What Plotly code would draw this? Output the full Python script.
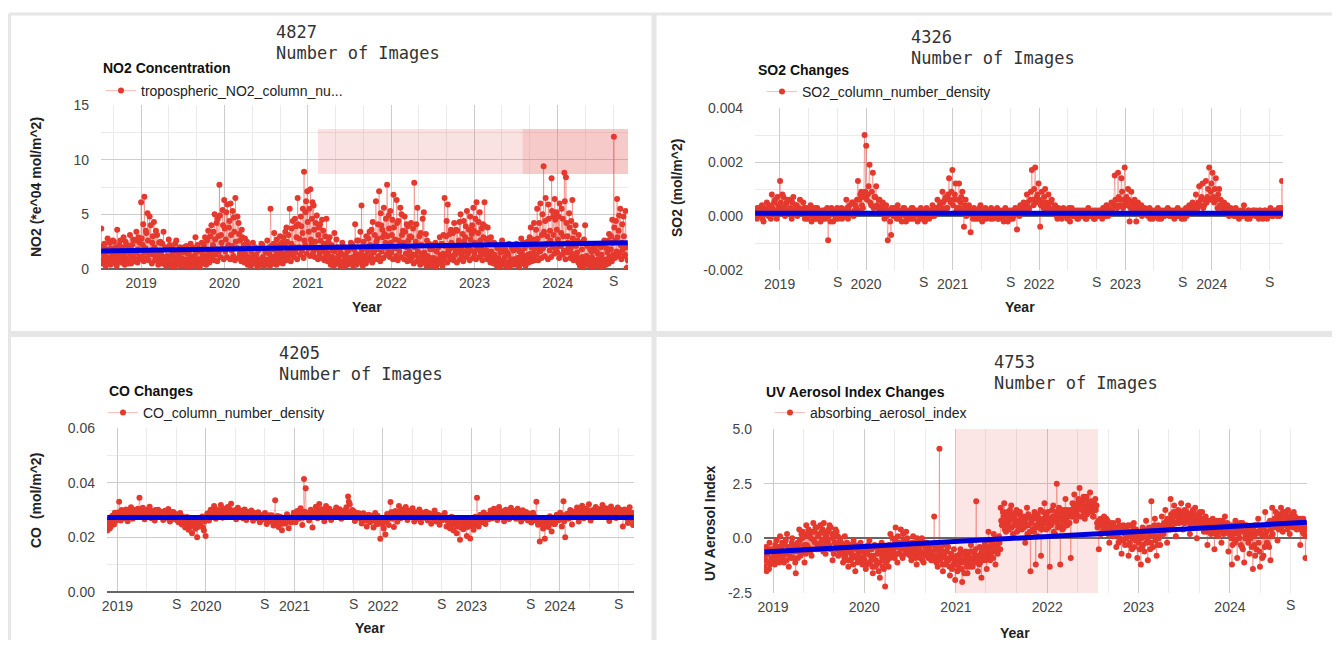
import plotly.graph_objects as go
import pandas as pd

# The page body keeps its default 8px margin, so the figure is drawn 16px smaller
# than the 1340x648 window and every target pixel position is shifted by 8px.
OFF = 8
FW, FH = 1340 - 2 * OFF, 648 - 2 * OFF
RED = "#e5392e"
RED_LINE = "rgba(229,57,46,0.35)"
BLUE = "#0000dd"
TICK_FONT = dict(family="Liberation Sans, Arial, sans-serif", size=14, color="#444444")
BOLD = "Liberation Sans, Arial, sans-serif"
MONO = "DejaVu Sans Mono, monospace"

# ---------------- DATA (several samples per week) ----------------
no2_start = "2018-07-10"
no2_values = [
    3.7, 0.9, 2.3, 1.1, 2.8, 0.6, 1.9, 1.2, 2.5, 0.8, 3.6, 1.4,
    2.6, 0.7, 2.9, 1.5, 2.2, 0.5, 3.1, 1.3, 2.7, 0.9, 3.4, 1.8, 2.4,
    6.1, 2.2, 6.6, 3.5, 5.1, 1.3, 4.0, 2.4, 4.3, 0.9, 3.1, 1.6, 2.5,
    1.2, 3.4, 0.4, 1.8, 0.7, 2.2, 0.3, 1.5, 0.9, 2.6, 0.5, 1.7, 1.0,
    0.6, 2.0, 0.4, 1.4, 0.8, 2.3, 0.3, 1.1, 2.9, 0.7, 1.6, 0.5, 2.4,
    1.3, 2.9, 0.8, 3.5, 1.5, 4.0, 2.2, 5.0, 1.8, 4.6, 7.7, 3.1, 5.4,
    6.3, 2.7, 5.9, 3.8, 6.0, 2.1, 4.7, 6.5, 1.9, 4.2, 2.6, 3.6, 1.4,
    2.8, 0.9, 2.1, 0.5, 1.6, 2.4, 0.6, 1.3, 0.4, 1.9, 0.8, 2.2, 0.5,
    1.5, 2.6, 0.7, 5.5, 1.8, 2.3, 1.2, 2.7, 0.8, 3.0, 1.4, 2.9, 2.1,
    3.8, 1.6, 5.5, 2.3, 4.4, 2.0, 3.9, 6.5, 2.8, 4.8, 3.3, 8.9, 5.2,
    7.1, 3.4, 7.3, 4.6, 5.8, 2.5, 4.9, 3.1, 4.1, 1.8, 3.5, 2.2, 4.6,
    1.4, 2.9, 0.6, 1.7, 3.3, 0.8, 2.0, 0.5, 1.5, 2.4, 0.7, 1.2, 0.4,
    1.8, 0.6, 2.3, 1.1, 4.1, 0.9, 2.6, 1.3, 5.8, 2.0, 0.8, 3.0, 1.6,
    3.4, 1.2, 4.3, 2.1, 6.2, 2.8, 7.1, 5.1, 3.6, 5.6, 2.4, 7.7, 4.9,
    5.3, 3.1, 6.8, 2.7, 6.3, 4.4, 2.2, 5.0, 3.5, 4.8, 2.0, 3.9, 1.6,
    4.2, 1.3, 7.9, 2.5, 5.6, 0.8, 3.3, 1.4, 5.2, 0.9, 2.6, 0.6, 1.8,
    0.7, 2.2, 0.5, 1.6, 0.9, 2.9, 0.6, 1.4, 6.5, 3.0, 5.9, 1.8, 3.6,
    2.0, 4.2, 1.7, 3.5, 2.6, 5.0, 1.5, 4.4, 2.9, 5.3, 2.1, 4.8, 3.2,
    5.6, 2.4, 6.1, 3.3, 5.2, 1.9, 4.1, 6.1, 2.7, 3.8, 1.5, 2.9, 1.1,
    2.4, 0.6, 1.9, 0.4, 1.5, 2.6, 0.8, 1.8, 0.3, 1.3, 2.2, 0.5, 1.7,
    0.9, 2.3, 0.4, 1.6, 2.8, 0.7, 1.9, 0.5, 2.5, 1.1, 3.8, 1.4, 4.2,
    2.6, 5.5, 1.9, 6.0, 3.1, 9.4, 4.4, 2.3, 5.9, 3.5, 8.3, 4.8, 6.4,
    5.2, 2.7, 6.0, 3.3, 4.6, 8.8, 8.4, 3.0, 5.1, 1.9, 6.3, 2.2, 4.0,
    1.5, 3.1, 0.6, 1.8, 0.4, 4.0, 1.2, 2.3, 0.5, 1.6, 0.3, 1.9, 0.8,
    1.4, 0.5, 2.0, 0.9, 2.6, 0.4, 1.5, 3.2, 1.8, 4.5, 12.1, 2.6, 6.4,
    3.5, 5.5, 2.4, 4.8, 1.3, 0.1,
]
no2_mid_values = [
    1.6, 2.1, 0.7, 1.8, 1.0, 2.4, 0.9, 2.6, 1.3, 2.0, 1.1, 2.2,
    1.2, 2.0, 1.0, 2.5, 0.8, 1.9, 1.4, 2.2, 1.0, 2.6, 1.5, 2.9, 1.1,
    2.8, 4.1, 1.5, 3.3, 2.6, 4.8, 1.7, 3.0, 2.0, 3.5, 1.2, 2.4, 1.5,
    2.3, 0.8, 2.0, 1.2, 2.7, 0.5, 1.9, 1.1, 2.3, 0.6, 1.4, 2.0, 0.7,
    1.5, 0.9, 2.1, 0.6, 1.7, 1.2, 2.0, 0.5, 1.6, 2.2, 0.9, 1.8, 1.2,
    2.2, 1.1, 2.6, 1.6, 3.0, 1.2, 3.4, 2.7, 4.2, 3.0, 4.9, 2.4, 4.0,
    3.7, 5.2, 2.0, 4.4, 3.1, 5.3, 3.4, 2.5, 4.8, 3.2, 1.8, 2.9, 2.2,
    1.4, 2.5, 1.1, 1.9, 0.7, 1.2, 2.0, 0.9, 1.7, 0.7, 2.3, 1.1, 1.8,
    0.8, 1.9, 1.4, 2.1, 0.9, 3.3, 1.7, 0.6, 2.2, 1.5, 2.4, 1.0, 3.4,
    2.5, 3.1, 1.3, 3.7, 1.7, 4.6, 2.9, 4.1, 1.9, 3.9, 5.5, 2.6, 6.2,
    4.3, 5.5, 2.7, 6.1, 3.6, 4.2, 1.9, 3.8, 2.6, 4.5, 2.3, 3.0, 1.5,
    2.5, 1.0, 2.2, 0.8, 1.6, 2.7, 1.1, 1.9, 0.6, 1.3, 2.0, 0.9, 1.6,
    1.0, 2.4, 0.7, 1.8, 1.4, 2.6, 0.8, 3.4, 1.7, 2.5, 1.2, 2.0, 2.8,
    2.2, 3.6, 1.7, 3.1, 2.5, 4.1, 1.8, 4.0, 2.9, 3.2, 4.6, 3.0, 3.7,
    2.4, 4.5, 3.8, 1.9, 4.2, 2.6, 5.6, 3.1, 2.4, 3.4, 4.1, 2.6, 3.0,
    2.9, 3.7, 2.0, 4.1, 1.6, 3.0, 2.2, 4.6, 1.5, 3.2, 1.2, 2.3, 1.0,
    1.8, 1.0, 2.4, 0.6, 2.0, 1.3, 2.3, 3.1, 2.1, 4.4, 1.6, 3.2, 2.4,
    3.3, 1.3, 3.6, 2.2, 4.3, 1.9, 3.2, 2.5, 3.9, 1.8, 3.6, 2.7, 4.0,
    3.5, 4.6, 1.8, 4.3, 2.6, 3.7, 2.9, 3.9, 1.7, 2.8, 2.3, 1.6, 2.4,
    1.3, 2.2, 0.9, 2.0, 0.7, 1.6, 2.1, 0.6, 1.5, 2.3, 0.8, 1.9, 0.6,
    1.8, 0.7, 2.0, 1.1, 1.5, 2.4, 0.9, 2.2, 1.3, 2.9, 2.0, 2.7, 1.8,
    3.6, 2.8, 4.2, 1.7, 5.0, 3.4, 6.5, 3.0, 4.6, 2.6, 5.3, 3.1, 4.5,
    3.6, 4.8, 2.1, 5.5, 3.0, 6.2, 4.2, 2.4, 3.8, 4.4, 2.8, 3.4, 2.1,
    2.6, 1.0, 2.4, 1.1, 2.7, 0.9, 2.1, 0.7, 1.8, 1.1, 2.2, 0.7, 1.6,
    0.9, 2.1, 1.3, 2.3, 0.8, 1.9, 2.6, 1.1, 3.0, 2.4, 3.8, 4.4, 2.9,
    4.9, 2.2, 4.1, 3.0, 5.3, 2.0,
]
no2_low_values = [
    0.5, 1.3, 0.3, 0.9, 1.6, 0.4, 1.1, 0.6, 1.4, 0.3, 0.9, 0.7,
    0.6, 1.4, 0.4, 1.0, 1.7, 0.8, 0.5, 1.2, 0.7, 1.5, 0.6, 1.1, 0.9,
    1.2, 0.7, 1.9, 1.0, 0.8, 1.6, 0.5, 1.3, 0.8, 1.1, 0.4, 0.9, 0.6,
    0.5, 1.1, 0.3, 0.8, 0.4, 1.2, 0.6, 0.2, 0.9, 0.4, 1.0, 0.3, 0.6,
    0.3, 0.8, 0.5, 0.2, 1.0, 0.4, 0.7, 1.2, 0.3, 0.6, 0.2, 0.9, 0.5,
    0.7, 0.4, 1.2, 0.6, 0.9, 1.5, 0.8, 1.3, 0.7, 1.6, 1.1, 1.9, 0.9,
    1.6, 1.1, 2.2, 0.9, 1.7, 1.2, 0.8, 1.9, 1.0, 1.4, 0.7, 1.1, 0.6,
    0.7, 0.4, 1.0, 0.3, 0.8, 0.5, 1.1, 0.2, 0.7, 0.4, 1.0, 0.3, 0.6,
    0.4, 0.9, 0.3, 1.1, 0.5, 0.8, 0.4, 1.3, 0.6, 0.9, 0.5, 1.4, 0.8,
    1.0, 1.4, 0.7, 1.8, 1.1, 1.5, 0.9, 2.0, 1.3, 1.7, 1.0, 2.2, 1.4,
    1.9, 1.2, 2.4, 1.5, 1.1, 1.8, 0.9, 1.4, 1.0, 1.6, 0.8, 1.2, 0.7,
    0.9, 0.4, 1.1, 0.3, 0.8, 0.5, 1.2, 0.3, 0.7, 0.2, 0.9, 0.4, 0.8,
    0.5, 1.0, 0.3, 0.7, 0.4, 1.1, 0.6, 0.9, 0.3, 1.2, 0.5, 0.8, 1.0,
    1.1, 0.6, 1.5, 0.9, 1.8, 1.2, 0.7, 1.6, 1.0, 2.0, 1.3, 1.7, 1.1,
    1.5, 0.9, 1.9, 1.2, 0.8, 1.6, 1.1, 2.1, 0.9, 1.4, 0.7, 1.2, 0.8,
    1.1, 0.5, 1.3, 0.7, 1.0, 0.4, 1.2, 0.6, 0.9, 0.3, 0.8, 0.5, 0.3,
    0.4, 0.9, 0.2, 0.7, 0.5, 1.1, 0.3, 0.8, 1.2, 0.6, 1.3, 0.9, 1.1,
    0.8, 1.3, 0.6, 1.5, 0.9, 1.2, 0.7, 1.6, 1.1, 1.4, 0.8, 1.7, 1.0,
    1.4, 0.9, 1.8, 1.1, 1.5, 0.8, 1.3, 1.7, 0.9, 1.2, 0.6, 1.0, 0.5,
    0.8, 0.3, 1.0, 0.2, 0.7, 0.4, 1.1, 0.3, 0.6, 0.2, 0.9, 0.4, 0.7,
    0.4, 1.0, 0.2, 0.8, 0.5, 1.2, 0.3, 0.9, 0.6, 1.4, 0.7, 1.1, 0.8,
    1.3, 0.8, 1.6, 1.0, 1.9, 1.2, 2.2, 0.9, 1.7, 1.1, 2.0, 1.4, 1.8,
    1.5, 1.0, 2.1, 1.3, 1.7, 0.9, 1.5, 1.9, 1.0, 1.4, 0.8, 1.2, 0.9,
    0.6, 0.3, 0.9, 0.2, 0.7, 0.4, 1.0, 0.3, 0.6, 0.2, 0.8, 0.3, 0.5,
    0.3, 0.8, 0.2, 0.6, 0.4, 0.9, 0.5, 1.1, 0.7, 1.3, 1.0, 1.6, 1.2,
    1.5, 0.9, 1.8, 1.2, 2.1, 0.8,
]
no2_trend = [1.65, 2.40]

so2_start = "2018-09-20"
so2_values = [
    0.0002, -0.0001, 0.0003, 0.0001, 0.0004, -0.0002, 0.0002, 0.0005, 0.0000, 0.0003, 0.0008, 0.0001, 0.0006, -0.0001, 0.0004,
    0.0013, 0.0003, 0.0007, 0.0000, 0.0005, 0.0002, 0.0006, -0.0001, 0.0007, 0.0002, 0.0004, 0.0001, 0.0006,
    0.0002, 0.0005, -0.0001, 0.0003, 0.0000, 0.0002, -0.0002, 0.0001, 0.0003, -0.0001, 0.0002, 0.0000, 0.0001,
    -0.0001, 0.0002, 0.0000, -0.0009, 0.0001, 0.0003, -0.0002, 0.0001, 0.0002, -0.0001, 0.0000, 0.0003, 0.0001,
    0.0002, 0.0006, -0.0001, 0.0004, 0.0001, 0.0005, 0.0002, 0.0003, 0.0013, 0.0006, 0.0009, 0.0003, 0.0030,
    0.0026, 0.0008, 0.0019, 0.0004, 0.0016, 0.0007, 0.0011, 0.0003, 0.0006, 0.0002, 0.0005, -0.0001, 0.0004,
    -0.0009, 0.0002, -0.0007, 0.0001, 0.0003, 0.0000, 0.0004, -0.0001, 0.0002, 0.0001, 0.0003, -0.0002, 0.0001,
    0.0002, -0.0001, 0.0003, 0.0000, 0.0002, -0.0002, 0.0001, 0.0003, -0.0001, 0.0002, 0.0000, 0.0001, -0.0001,
    0.0002, 0.0004, 0.0000, 0.0003, 0.0006, 0.0001, 0.0005, 0.0009, 0.0002, 0.0007, 0.0003, 0.0014, 0.0005,
    0.0017, 0.0006, 0.0012, 0.0003, 0.0012, 0.0005, 0.0009, -0.0004, 0.0006, 0.0002, 0.0004, -0.0006, 0.0002,
    0.0003, -0.0001, 0.0002, 0.0000, 0.0004, -0.0002, 0.0001, 0.0003, 0.0000, 0.0002, -0.0001, 0.0001, 0.0002,
    0.0000, 0.0003, -0.0001, 0.0001, 0.0002, -0.0002, 0.0003, 0.0000, 0.0001, -0.0001, 0.0002, 0.0000, 0.0003,
    -0.0005, 0.0002, 0.0004, 0.0001, 0.0005, 0.0003, 0.0008, 0.0002, 0.0006, 0.0017, 0.0004, 0.0018, 0.0007,
    0.0012, -0.0004, 0.0009, 0.0003, 0.0010, 0.0005, 0.0008, 0.0002, 0.0006, 0.0001, 0.0004, 0.0000, 0.0003,
    0.0002, -0.0001, 0.0003, 0.0000, 0.0002, 0.0001, -0.0002, 0.0003, 0.0001, 0.0000, 0.0002, -0.0001, 0.0001,
    0.0002, 0.0000, 0.0001, -0.0001, 0.0003, 0.0001, 0.0000, 0.0002, -0.0001, 0.0001, 0.0002, 0.0000, 0.0001,
    0.0003, 0.0001, 0.0004, 0.0000, 0.0002, 0.0005, 0.0001, 0.0015, 0.0004, 0.0016, 0.0006, 0.0014, 0.0003,
    0.0018, 0.0007, 0.0010, -0.0002, 0.0009, 0.0004, 0.0006, -0.0002, 0.0005, 0.0002, 0.0004, 0.0001, 0.0003,
    0.0002, 0.0000, 0.0003, 0.0001, -0.0001, 0.0002, 0.0000, 0.0003, 0.0001, -0.0001, 0.0002, 0.0000, 0.0001,
    0.0003, 0.0000, 0.0002, 0.0001, -0.0001, 0.0002, 0.0003, 0.0000, 0.0001, 0.0002, -0.0001, 0.0003, 0.0002,
    0.0004, 0.0001, 0.0005, 0.0002, 0.0008, 0.0003, 0.0011, 0.0006, 0.0012, 0.0004, 0.0013, 0.0007, 0.0018,
    0.0009, 0.0016, 0.0005, 0.0014, 0.0003, 0.0010, 0.0006, 0.0002, 0.0005, 0.0001, 0.0004, 0.0000, 0.0003,
    0.0002, 0.0000, 0.0003, 0.0001, -0.0001, 0.0002, 0.0000, 0.0004, 0.0001, -0.0001, 0.0002, 0.0000, 0.0001,
    0.0002, 0.0000, 0.0001, -0.0001, 0.0002, 0.0001, 0.0000, 0.0002, -0.0001, 0.0001, 0.0003, 0.0000, 0.0001,
    0.0002, 0.0000, 0.0003, 0.0002, 0.0013,
]
so2_mid_values = [
    0.0001, 0.0003, 0.0000, 0.0002, -0.0001, 0.0003, 0.0001, 0.0002, 0.0004, -0.0001, 0.0003, 0.0005, 0.0002, 0.0007, 0.0003,
    0.0005, 0.0008, 0.0002, 0.0004, 0.0006, 0.0001, 0.0003, 0.0005, 0.0002, 0.0004, 0.0000, 0.0003, 0.0002,
    0.0001, 0.0003, 0.0001, -0.0001, 0.0002, 0.0004, 0.0000, 0.0002, -0.0001, 0.0003, 0.0001, -0.0002, 0.0002,
    0.0002, -0.0001, 0.0003, 0.0000, -0.0002, 0.0002, 0.0001, -0.0001, 0.0003, 0.0000, 0.0002, -0.0001, 0.0002,
    0.0000, 0.0003, 0.0002, 0.0001, 0.0005, 0.0000, 0.0004, 0.0006, 0.0002, 0.0008, 0.0004, 0.0007, 0.0009,
    0.0006, 0.0011, 0.0005, 0.0009, 0.0003, 0.0007, 0.0004, 0.0006, 0.0002, 0.0004, 0.0001, 0.0003, 0.0000,
    0.0002, -0.0002, 0.0003, 0.0000, 0.0002, -0.0001, 0.0002, 0.0001, -0.0002, 0.0003, 0.0000, 0.0002, -0.0001,
    0.0001, 0.0003, -0.0001, 0.0002, 0.0001, 0.0002, -0.0001, 0.0000, 0.0002, -0.0002, 0.0003, 0.0001, 0.0002,
    0.0000, 0.0002, 0.0003, 0.0001, 0.0002, 0.0004, 0.0003, 0.0005, 0.0006, 0.0003, 0.0008, 0.0006, 0.0009,
    0.0004, 0.0008, 0.0002, 0.0006, 0.0003, 0.0007, 0.0002, 0.0004, 0.0000, 0.0003, 0.0001, 0.0002, -0.0001,
    0.0001, 0.0002, -0.0001, 0.0003, 0.0001, 0.0000, 0.0002, -0.0001, 0.0002, 0.0001, 0.0003, -0.0001, 0.0000,
    0.0002, -0.0001, 0.0002, 0.0000, -0.0001, 0.0002, 0.0001, -0.0002, 0.0002, 0.0001, -0.0001, 0.0002, 0.0001,
    0.0002, 0.0000, 0.0002, 0.0003, 0.0002, 0.0004, 0.0005, 0.0003, 0.0009, 0.0006, 0.0010, 0.0005, 0.0008,
    0.0006, 0.0004, 0.0005, 0.0007, 0.0002, 0.0004, 0.0003, 0.0005, 0.0001, 0.0003, 0.0002, -0.0001, 0.0002,
    0.0001, 0.0002, 0.0000, 0.0002, -0.0001, 0.0003, 0.0001, 0.0000, 0.0002, 0.0001, -0.0001, 0.0002, 0.0000,
    0.0001, 0.0002, -0.0001, 0.0002, 0.0000, 0.0002, 0.0001, -0.0001, 0.0002, 0.0000, 0.0001, 0.0002, -0.0001,
    0.0002, 0.0000, 0.0002, 0.0003, 0.0001, 0.0002, 0.0004, 0.0006, 0.0003, 0.0007, 0.0004, 0.0009, 0.0006,
    0.0005, 0.0004, 0.0006, 0.0003, 0.0005, 0.0002, 0.0004, 0.0003, 0.0001, 0.0003, 0.0000, 0.0002, 0.0001,
    0.0001, 0.0002, -0.0001, 0.0002, 0.0001, 0.0000, 0.0002, -0.0001, 0.0002, 0.0001, 0.0000, 0.0002, 0.0001,
    0.0001, 0.0002, 0.0000, 0.0002, 0.0001, 0.0000, 0.0001, 0.0002, -0.0001, 0.0001, 0.0002, 0.0000, 0.0001,
    0.0002, 0.0003, 0.0001, 0.0004, 0.0002, 0.0005, 0.0004, 0.0007, 0.0003, 0.0006, 0.0005, 0.0010, 0.0006,
    0.0012, 0.0007, 0.0010, 0.0006, 0.0008, 0.0004, 0.0003, 0.0004, 0.0002, 0.0003, 0.0001, 0.0002, 0.0002,
    0.0001, 0.0002, 0.0000, 0.0002, 0.0001, 0.0000, 0.0002, 0.0001, 0.0000, 0.0002, -0.0001, 0.0001, 0.0002,
    0.0001, 0.0002, 0.0000, 0.0002, 0.0001, -0.0001, 0.0002, 0.0001, 0.0000, 0.0002, 0.0001, 0.0000, 0.0002,
    0.0001, 0.0002, 0.0000, 0.0003, 0.0001,
]
so2_trend = [0.0001, 0.0001]

co_start = "2018-11-20"
co_values = [
    0.0225, 0.0265, 0.0238, 0.0279, 0.0247, 0.0283,
    0.0291, 0.0330, 0.0262, 0.0295, 0.0271, 0.0302, 0.0259, 0.0288, 0.0310, 0.0268, 0.0297, 0.0275, 0.0305,
    0.0345, 0.0281, 0.0308, 0.0266, 0.0299, 0.0283, 0.0312, 0.0270, 0.0293, 0.0262, 0.0289, 0.0301, 0.0274,
    0.0286, 0.0263, 0.0297, 0.0272, 0.0304, 0.0258, 0.0284, 0.0293, 0.0266, 0.0278, 0.0255, 0.0289, 0.0247,
    0.0268, 0.0236, 0.0274, 0.0228, 0.0261, 0.0215, 0.0270, 0.0231, 0.0200, 0.0259, 0.0242, 0.0276, 0.0225,
    0.0205, 0.0287, 0.0262, 0.0301, 0.0279, 0.0315, 0.0268, 0.0296, 0.0283, 0.0318, 0.0272, 0.0305, 0.0290,
    0.0311, 0.0275, 0.0323, 0.0284, 0.0299, 0.0266, 0.0308, 0.0281, 0.0295, 0.0270, 0.0302, 0.0263, 0.0287,
    0.0276, 0.0298, 0.0261, 0.0284, 0.0270, 0.0292, 0.0255, 0.0281, 0.0266, 0.0289, 0.0249, 0.0274, 0.0258,
    0.0281, 0.0243, 0.0336, 0.0262, 0.0238, 0.0275, 0.0226, 0.0269, 0.0251, 0.0284, 0.0233, 0.0272, 0.0260,
    0.0290, 0.0255, 0.0296, 0.0268, 0.0306, 0.0245, 0.0413, 0.0380, 0.0288, 0.0262, 0.0301, 0.0236, 0.0293,
    0.0312, 0.0270, 0.0322, 0.0284, 0.0298, 0.0259, 0.0315, 0.0276, 0.0305, 0.0263, 0.0292, 0.0281, 0.0309,
    0.0286, 0.0303, 0.0268, 0.0295, 0.0274, 0.0310, 0.0349, 0.0321, 0.0282, 0.0297, 0.0260, 0.0285, 0.0271,
    0.0279, 0.0251, 0.0288, 0.0262, 0.0240, 0.0283, 0.0255, 0.0274, 0.0236, 0.0289, 0.0248, 0.0270, 0.0195,
    0.0262, 0.0232, 0.0210, 0.0285, 0.0245, 0.0329, 0.0268, 0.0238, 0.0296, 0.0257, 0.0315, 0.0270, 0.0302,
    0.0281, 0.0311, 0.0263, 0.0298, 0.0275, 0.0306, 0.0258, 0.0290, 0.0268, 0.0302, 0.0255, 0.0285, 0.0272,
    0.0294, 0.0262, 0.0287, 0.0250, 0.0279, 0.0298, 0.0258, 0.0283, 0.0246, 0.0275, 0.0264, 0.0289, 0.0240,
    0.0268, 0.0233, 0.0275, 0.0226, 0.0258, 0.0215, 0.0265, 0.0191, 0.0247, 0.0230, 0.0271, 0.0205, 0.0255,
    0.0196, 0.0262, 0.0228, 0.0275, 0.0345, 0.0240, 0.0283, 0.0255, 0.0291, 0.0249, 0.0279, 0.0266, 0.0298,
    0.0270, 0.0305, 0.0282, 0.0263, 0.0311, 0.0276, 0.0295, 0.0259, 0.0301, 0.0284, 0.0267, 0.0308, 0.0279,
    0.0296, 0.0268, 0.0305, 0.0280, 0.0258, 0.0299, 0.0271, 0.0293, 0.0262, 0.0286, 0.0254, 0.0290, 0.0275,
    0.0330, 0.0246, 0.0185, 0.0271, 0.0232, 0.0195, 0.0263, 0.0238, 0.0277, 0.0221, 0.0268, 0.0249, 0.0283,
    0.0262, 0.0290, 0.0240, 0.0332, 0.0200, 0.0285, 0.0268, 0.0300, 0.0247, 0.0293, 0.0275, 0.0309, 0.0258,
    0.0296, 0.0316, 0.0270, 0.0305, 0.0283, 0.0321, 0.0262, 0.0299, 0.0287, 0.0311, 0.0275, 0.0303, 0.0290,
    0.0318, 0.0279, 0.0306, 0.0292, 0.0260, 0.0313, 0.0286, 0.0300, 0.0271, 0.0309, 0.0282, 0.0296, 0.0240,
    0.0302, 0.0285, 0.0252, 0.0310, 0.0268, 0.0245,
]
co_mid_values = [
    0.0248, 0.0232, 0.0270, 0.0255, 0.0290, 0.0262,
    0.0275, 0.0285, 0.0300, 0.0270, 0.0288, 0.0279, 0.0296, 0.0277, 0.0284, 0.0301, 0.0282, 0.0292, 0.0286,
    0.0294, 0.0303, 0.0276, 0.0290, 0.0285, 0.0304, 0.0279, 0.0296, 0.0281, 0.0300, 0.0276, 0.0287, 0.0294,
    0.0275, 0.0291, 0.0280, 0.0288, 0.0269, 0.0293, 0.0276, 0.0270, 0.0285, 0.0262, 0.0281, 0.0268, 0.0275,
    0.0255, 0.0262, 0.0245, 0.0257, 0.0241, 0.0265, 0.0248, 0.0252, 0.0238, 0.0244, 0.0264, 0.0236, 0.0258,
    0.0268, 0.0274, 0.0290, 0.0282, 0.0296, 0.0288, 0.0302, 0.0285, 0.0299, 0.0290, 0.0296, 0.0284, 0.0300,
    0.0292, 0.0301, 0.0290, 0.0296, 0.0284, 0.0293, 0.0288, 0.0298, 0.0279, 0.0290, 0.0285, 0.0294, 0.0280,
    0.0288, 0.0279, 0.0290, 0.0276, 0.0285, 0.0271, 0.0279, 0.0268, 0.0283, 0.0274, 0.0265, 0.0281, 0.0270,
    0.0265, 0.0272, 0.0255, 0.0278, 0.0259, 0.0266, 0.0250, 0.0262, 0.0271, 0.0258, 0.0266, 0.0254, 0.0275,
    0.0279, 0.0270, 0.0283, 0.0276, 0.0288, 0.0272, 0.0294, 0.0281, 0.0275, 0.0290, 0.0278, 0.0285, 0.0276,
    0.0291, 0.0298, 0.0285, 0.0303, 0.0279, 0.0296, 0.0288, 0.0299, 0.0283, 0.0293, 0.0276, 0.0298, 0.0289,
    0.0295, 0.0280, 0.0290, 0.0284, 0.0299, 0.0286, 0.0330, 0.0293, 0.0300, 0.0276, 0.0291, 0.0280, 0.0288,
    0.0267, 0.0282, 0.0270, 0.0276, 0.0265, 0.0271, 0.0280, 0.0262, 0.0276, 0.0266, 0.0279, 0.0258, 0.0251,
    0.0247, 0.0270, 0.0259, 0.0266, 0.0280, 0.0292, 0.0281, 0.0294, 0.0278, 0.0286, 0.0293, 0.0284, 0.0289,
    0.0293, 0.0287, 0.0296, 0.0282, 0.0290, 0.0285, 0.0292, 0.0279, 0.0288, 0.0283, 0.0291, 0.0276, 0.0286,
    0.0279, 0.0288, 0.0274, 0.0283, 0.0268, 0.0285, 0.0276, 0.0270, 0.0279, 0.0263, 0.0274, 0.0268, 0.0262,
    0.0255, 0.0250, 0.0258, 0.0246, 0.0252, 0.0240, 0.0248, 0.0236, 0.0259, 0.0244, 0.0250, 0.0238, 0.0246,
    0.0242, 0.0250, 0.0258, 0.0246, 0.0268, 0.0262, 0.0271, 0.0264, 0.0276, 0.0269, 0.0283, 0.0275, 0.0281,
    0.0288, 0.0281, 0.0293, 0.0284, 0.0290, 0.0287, 0.0283, 0.0292, 0.0279, 0.0289, 0.0285, 0.0291, 0.0287,
    0.0282, 0.0289, 0.0285, 0.0276, 0.0286, 0.0280, 0.0284, 0.0278, 0.0281, 0.0272, 0.0279, 0.0270, 0.0263,
    0.0258, 0.0266, 0.0252, 0.0247, 0.0260, 0.0243, 0.0255, 0.0268, 0.0251, 0.0262, 0.0249, 0.0271, 0.0264,
    0.0276, 0.0268, 0.0281, 0.0259, 0.0274, 0.0286, 0.0279, 0.0290, 0.0283, 0.0294, 0.0287, 0.0292, 0.0281,
    0.0288, 0.0297, 0.0291, 0.0285, 0.0299, 0.0290, 0.0295, 0.0288, 0.0302, 0.0293, 0.0297, 0.0289, 0.0300,
    0.0293, 0.0300, 0.0289, 0.0297, 0.0284, 0.0294, 0.0299, 0.0287, 0.0296, 0.0290, 0.0301, 0.0288, 0.0276,
    0.0292, 0.0270, 0.0297, 0.0281, 0.0290, 0.0262,
]
co_trend = [0.0273, 0.0273]

uv_start = "2018-11-27"
uv_values = [
    -1.3, -0.4, -1.1, -0.2, -0.9,
    -0.5, -1.2, -0.1, -0.8, 0.1, -1.0, -0.3, -0.7, 0.2, -1.3, -0.4, 0.0, -0.9,
    -1.6, -0.2, 0.4, -0.6, 0.3, -1.1, 0.6, -0.4, 0.2, -0.8, 0.7, -0.2, 0.5,
    -0.5, 0.6, -0.1, 0.7, -0.7, 0.3, -0.3, 0.5, -1.0, 0.2, -0.4, 0.1, -0.6,
    -0.2, -1.1, 0.1, -0.6, -1.3, -0.3, -0.9, -0.1, -1.5, -0.5, -0.8, -0.2, -1.2,
    -0.4, -1.4, -0.7, -0.1, -1.0, -1.6, -0.3, -1.2, -0.6, -1.8, -0.2, -1.0, -2.2,
    -0.5, -1.3, 0.2, -0.8, -0.3, 0.5, -1.1, -0.2, 0.4, -0.9, -0.1, 0.3, -0.7,
    -0.3, -1.0, 0.1, -0.6, -1.2, -0.2, -0.9, 0.0, -1.1, -0.4, -0.7, -0.8, -0.3,
    -1.0, 1.0, -0.5, -1.3, 4.1, -0.9, -1.5, -0.6, -1.1, -0.4, -1.7, -0.8, -1.2,
    -1.9, -0.8, -1.4, -0.5, -2.0, -1.1, -0.6, -1.6, -0.9, -0.3, -1.3, -0.7, 1.7,
    -1.5, -0.4, -1.8, -0.8, -0.2, -1.4, 0.3, -1.0, -0.5, 0.2, -1.2, -0.3, 0.1,
    1.4, 0.6, 1.6, 0.3, 1.1, 0.8, 1.5, 0.2, 0.9, 1.3, 0.5, 1.2, 0.4,
    1.0, -0.2, 1.4, 0.6, -1.5, 0.9, 0.3, -1.2, 1.1, 0.5, -0.8, 0.8, 1.6,
    0.4, 1.2, -1.3, 0.7, 1.5, 0.2, 2.5, 0.9, -1.2, 1.3, 0.5, 1.8, 0.6,
    1.1, -0.9, 1.6, 2.0, 0.8, 1.4, 2.3, 1.0, 1.7, 0.9, 1.9, 1.2, 2.1,
    1.5, 1.0, 1.8, 0.7, -0.5, 0.9, 0.3, 1.0, 0.4, 0.8, -0.2, 0.6, 0.1,
    0.5, -0.4, 0.8, 0.0, -0.7, 0.6, -0.3, 0.4, -0.8, 0.2, -0.5, 0.7, -0.1,
    -0.9, 0.3, -1.2, 0.5, -0.6, 0.8, -1.0, 0.1, 1.7, -0.4, 0.9, -0.8, 0.6,
    -0.3, 1.0, 0.2, 1.3, -0.2, 0.9, 1.8, 0.5, 1.5, 0.1, 1.2, 0.7, 1.6,
    0.4, 1.3, 0.8, 1.5, 0.2, 1.1, 0.6, 1.4, 0.0, 0.9, 0.5, 1.2, 0.3,
    1.0, -0.3, 0.7, 0.2, 0.9, -0.5, 0.6, 0.1, 0.8, -0.2, 0.5, 1.0, 0.3,
    -0.6, 0.6, -1.2, 0.2, 0.8, -0.9, 0.4, -0.3, 0.7, -1.1, 0.1, 0.5, -0.7,
    0.3, -1.4, 0.6, -0.5, 0.9, -1.3, 0.2, -0.8, 1.2, -0.2, 0.7, -1.0, 1.4,
    0.5, 1.2, -0.1, 0.9, 1.4, 0.3, 1.0, 0.6, 1.3, 0.2, 1.1, 0.7, 1.0,
    0.4, 0.9, -0.3, 0.6, 0.2, -0.9,
]
uv_mid_values = [
    -0.8, -1.5, -0.5, -1.2, -0.6,
    -0.9, -0.3, -1.0, -0.4, -0.6, -0.2, -1.1, -0.1, -0.7, -0.5, -0.9, -0.3, -0.6,
    -0.4, -0.9, -0.1, 0.2, -0.5, 0.1, -0.3, 0.4, -0.6, 0.3, -0.1, 0.5, -0.4,
    0.2, -0.2, 0.4, -0.4, 0.1, -0.1, 0.6, -0.5, 0.0, -0.2, 0.3, -0.8, 0.0,
    -0.7, -0.4, -0.8, -0.2, -0.6, -1.0, -0.5, -0.8, -0.4, -1.1, -0.3, -0.9, -0.6,
    -1.0, -0.6, -0.3, -1.1, -0.5, -0.8, -1.3, -0.4, -1.5, -0.7, -0.9, -1.4, -0.8,
    -1.0, -0.3, -0.6, 0.0, -0.9, -0.4, 0.1, -0.7, -0.3, 0.2, -0.5, -0.2, -0.4,
    -0.8, -0.2, -0.5, -0.9, 0.0, -0.6, -0.3, -1.0, -0.2, -0.8, -0.4, -0.5, -1.0,
    -0.6, -0.8, -1.1, -0.4, -1.0, -0.7, -0.3, -1.2, -0.6, -1.0, -0.9, -1.4, -0.5,
    -1.2, -1.5, -0.9, -1.1, -0.7, -1.6, -1.0, -0.8, -1.3, -0.6, -0.9, -1.1, -0.8,
    -0.9, -1.1, -0.6, -0.4, -1.0, -0.7, -0.1, -0.8, -0.2, -0.6, 0.0, -0.7, -0.2,
    0.8, 1.2, 0.4, 0.9, 0.6, 1.3, 0.5, 1.0, 0.7, 0.3, 1.1, 0.8, 0.6,
    0.5, 0.9, 0.2, 1.0, 0.7, 0.4, 1.2, 0.6, 0.1, 0.9, 0.4, 1.2, 0.7,
    1.0, 0.5, 0.9, 1.3, 0.3, 1.0, 0.7, 1.4, 0.6, 0.4, 1.1, 0.9, 1.3,
    0.7, 1.3, 1.0, 1.5, 1.2, 1.8, 1.5, 1.3, 1.9, 1.4, 1.1, 1.6, 1.4,
    1.2, 1.6, 1.3, 0.5, 0.8, 0.2, 0.6, 0.5, 0.9, 0.2, 0.5, 0.3, 0.7,
    0.2, 0.5, -0.2, 0.3, 0.4, -0.1, 0.5, 0.1, -0.3, 0.6, 0.0, -0.4, 0.4,
    0.2, -0.5, 0.0, -0.3, 0.4, -0.2, 0.3, -0.5, 0.5, 0.2, -0.1, 0.4, 0.0,
    0.5, 0.3, 0.7, 0.5, 0.9, 0.4, 1.1, 0.8, 1.0, 0.7, 1.3, 0.9, 1.1,
    1.0, 0.7, 1.2, 0.9, 0.6, 1.0, 1.2, 0.8, 0.7, 1.1, 0.9, 0.6, 0.8,
    0.5, 0.6, 0.3, 0.7, 0.4, 0.5, 0.8, 0.4, 0.3, 0.6, 0.2, 0.5, 0.7,
    0.2, 0.4, -0.3, 0.5, -0.1, 0.6, 0.0, 0.5, -0.5, 0.3, 0.6, -0.2, 0.4,
    -0.4, 0.5, -0.8, 0.3, -0.2, 0.4, -0.9, 0.5, 0.1, 0.6, -0.4, 0.4, 0.2,
    0.9, 0.6, 1.1, 0.7, 0.5, 1.2, 0.8, 1.0, 0.6, 0.9, 0.7, 1.2, 0.5,
    0.8, 0.5, 0.9, 0.3, 0.7, 0.4,
]
uv_low_values = [
    -1.0, -0.7, -1.4, -0.5, -1.1,
    -0.7, -0.9, -0.4, -1.1, -0.5, -0.8, -0.2, -1.0, -0.4, -0.8, -0.2, -0.6, -1.1,
    -0.6, -0.3, -0.8, 0.0, -0.3, -0.7, 0.2, -0.6, 0.0, -0.5, 0.3, -0.5, 0.1,
    -0.3, 0.3, -0.6, 0.2, -0.2, 0.4, -0.5, 0.2, -0.7, 0.4, -0.5, -0.2, -0.4,
    -0.5, -0.9, -0.3, -1.0, -0.4, -0.7, -1.2, -0.3, -0.9, -0.6, -1.0, -0.5, -0.9,
    -0.7, -1.2, -0.5, -0.8, -1.3, -0.4, -1.0, -0.7, -1.1, -0.5, -1.3, -0.6, -1.1,
    -0.7, -0.9, -0.4, -0.6, -0.1, -0.7, -0.3, -0.5, -0.8, -0.1, -0.7, 0.0, -0.6,
    -0.5, -0.7, -0.2, -0.4, -0.8, -0.5, -0.1, -0.7, -0.6, -0.2, -0.9, -0.3, -0.6,
    -0.8, -0.4, -0.9, -0.7, -0.5, -1.2, -0.8, -0.9, -0.4, -1.3, -0.7, -0.9, -1.0,
    -1.0, -1.2, -0.7, -1.4, -1.0, -0.8, -1.3, -1.1, -0.6, -1.2, -1.0, -0.5, -1.1,
    -1.2, -0.7, -1.0, -0.5, -0.9, -0.4, -0.6, -0.3, -0.9, -0.4, -0.6, -0.1, -0.5,
    0.6, 1.0, 0.7, 1.2, 0.4, 0.9, 1.1, 0.6, 1.2, 0.8, 0.7, 1.0, 0.9,
    0.8, 0.6, 1.1, 0.3, 0.8, 1.0, 0.5, 0.9, 0.7, 1.3, 0.6, 0.9, 1.1,
    0.7, 0.9, 0.6, 1.0, 0.8, 1.2, 0.5, 1.1, 0.9, 0.8, 1.3, 0.7, 1.0,
    1.2, 1.0, 1.4, 1.1, 1.6, 1.0, 1.7, 1.6, 1.2, 1.8, 1.5, 1.3, 1.7,
    1.0, 1.3, 1.5, 0.8, 0.6, 0.7, 0.4, 0.8, 0.6, 0.5, 0.7, 0.4, 0.3,
    0.4, 0.2, 0.6, -0.1, 0.3, 0.2, 0.0, 0.6, -0.2, 0.3, 0.5, 0.1, 0.2,
    -0.2, 0.2, -0.4, 0.1, 0.3, -0.1, 0.5, -0.2, 0.3, 0.6, 0.1, -0.3, 0.3,
    0.2, 0.6, 0.4, 0.8, 0.6, 0.7, 0.9, 1.2, 0.7, 1.1, 0.9, 1.2, 0.8,
    0.7, 1.0, 0.9, 1.1, 0.8, 1.3, 0.9, 1.0, 0.5, 1.2, 0.7, 0.9, 0.6,
    0.3, 0.8, 0.5, 0.4, 0.6, 0.2, 0.7, 0.6, 0.4, 0.8, 0.6, 0.3, 0.5,
    0.4, 0.0, 0.6, -0.2, 0.3, 0.2, 0.7, -0.4, 0.3, 0.0, 0.4, 0.2, 0.0,
    0.1, -0.3, 0.2, 0.6, -0.6, 0.2, 0.5, -0.4, 0.3, -0.3, 0.8, 0.1, 0.6,
    0.7, 1.0, 0.4, 1.1, 0.8, 0.6, 1.2, 0.4, 0.9, 0.8, 0.5, 0.9, 0.8,
    0.6, 0.8, 0.4, 0.9, 0.5, 0.1,
]
uv_trend = [-0.62, 0.73]

years = [2019, 2020, 2021, 2022, 2023, 2024]
year_labels = ["2019", "2020", "2021", "2022", "2023", "2024"]

panels = [
    dict(series=[(no2_values, 0), (no2_mid_values, 2), (no2_low_values, 5)],
         start=no2_start, trend=no2_trend,
         legend_name="tropospheric_NO2_column_nu...", title="NO2 Concentration",
         ytitle="NO2 (*e^04 mol/m^2)", count="4827",
         box=(101, 628, 105, 269),
         yticks=[0, 5, 10, 15], yticktext=["0", "5", "10", "15"], yminor=[2.5, 7.5, 12.5],
         s_years=[2024],
         pos=dict(count=(274, 32), noi=(274, 53), title=(101, 68), legend=(142, 91),
                  ytitle=(36, 187), xtitle=(367, 307))),
    dict(series=[(so2_values, 0), (so2_mid_values, 3)],
         start=so2_start, trend=so2_trend,
         legend_name="SO2_column_number_density", title="SO2 Changes",
         ytitle="SO2 (mol/m^2)", count="4326",
         box=(755, 1283, 108, 270),
         yticks=[-0.002, 0.0, 0.002, 0.004], yticktext=["-0.002", "0.000", "0.002", "0.004"],
         yminor=[-0.001, 0.001, 0.003],
         s_years=[2019, 2020, 2021, 2022, 2023, 2024],
         pos=dict(count=(909, 37), noi=(909, 58), title=(756, 70), legend=(803, 92),
                  ytitle=(677, 188), xtitle=(1020, 307))),
    dict(series=[(co_values, 0), (co_mid_values, 3)],
         start=co_start, trend=co_trend,
         legend_name="CO_column_number_density", title="CO Changes",
         ytitle="CO\u00a0\u00a0(mol/m^2)", count="4205",
         box=(107, 634, 428, 592),
         yticks=[0.0, 0.02, 0.04, 0.06], yticktext=["0.00", "0.02", "0.04", "0.06"],
         yminor=[0.01, 0.03, 0.05],
         s_years=[2019, 2020, 2021, 2022, 2023, 2024],
         pos=dict(count=(277, 353), noi=(277, 374), title=(107, 391), legend=(144, 413),
                  ytitle=(36, 501), xtitle=(370, 628))),
    dict(series=[(uv_values, 0), (uv_mid_values, 2), (uv_low_values, 5)],
         start=uv_start, trend=uv_trend,
         legend_name="absorbing_aerosol_index", title="UV Aerosol Index Changes",
         ytitle="UV Aerosol Index", count="4753",
         box=(764, 1307, 429, 593),
         yticks=[-2.5, 0.0, 2.5, 5.0], yticktext=["-2.5", "0.0", "2.5", "5.0"],
         yminor=[],
         s_years=[2024],
         pos=dict(count=(992, 362), noi=(992, 383), title=(764, 392), legend=(811, 413),
                  ytitle=(710, 523), xtitle=(1015, 633))),
]


def px(x):
    return (x - OFF) / FW


def py(y):
    return 1 - (y - OFF) / FH


fig = go.Figure()
annotations = []
shapes = []
layout = dict()

for i, p in enumerate(panels, start=1):
    xa = "x" if i == 1 else f"x{i}"
    ya = "y" if i == 1 else f"y{i}"
    xkey = "xaxis" if i == 1 else f"xaxis{i}"
    ykey = "yaxis" if i == 1 else f"yaxis{i}"
    lg = "legend" if i == 1 else f"legend{i}"
    frames = []
    for vals, off in p["series"]:
        d = pd.date_range(p["start"], periods=len(vals), freq="7D") + pd.Timedelta(days=off)
        frames.append(pd.DataFrame({"d": d, "v": vals}))
    df = pd.concat(frames).sort_values("d", kind="stable")
    x0, x1 = df["d"].iloc[0], df["d"].iloc[-1]

    fig.add_trace(go.Scatter(
        x=df["d"], y=df["v"], mode="lines+markers", name=p["legend_name"],
        line=dict(color=RED_LINE, width=1), marker=dict(color=RED, size=6),
        xaxis=xa, yaxis=ya, legend=lg, showlegend=True, hoverinfo="skip"))
    fig.add_trace(go.Scatter(
        x=[x0, x1], y=p["trend"], mode="lines", line=dict(color=BLUE, width=5),
        xaxis=xa, yaxis=ya, showlegend=False, hoverinfo="skip"))

    l, r, t, b = p["box"]
    minor_x = [f"{yr}-{m}-01" for yr in range(2018, 2025) for m in ("05", "09")]
    layout[xkey] = dict(
        domain=[px(l), px(r)], anchor=ya, type="date", automargin=False,
        range=[x0 - pd.Timedelta(days=1), x1 + pd.Timedelta(days=1)],
        tickmode="array", tickvals=[f"{y}-01-01" for y in years], ticktext=year_labels,
        showgrid=True, gridcolor="#cccccc", gridwidth=1, zeroline=False, showline=False,
        ticks="", tickfont=TICK_FONT, ticklabelstandoff=4,
        minor=dict(tickmode="array", tickvals=minor_x, showgrid=True,
                   gridcolor="#ebebeb", gridwidth=1, ticks=""),
    )
    yax = dict(
        domain=[py(b), py(t)], anchor=xa, automargin=False,
        range=[p["yticks"][0], p["yticks"][-1]],
        tickmode="array", tickvals=p["yticks"], ticktext=p["yticktext"],
        showgrid=True, gridcolor="#cccccc", gridwidth=1,
        zeroline=True, zerolinecolor="#666666", zerolinewidth=1.5,
        showline=False, ticks="", tickfont=TICK_FONT, ticklabelstandoff=11,
    )
    if p["yminor"]:
        yax["minor"] = dict(tickmode="array", tickvals=p["yminor"], showgrid=True,
                            gridcolor="#ebebeb", gridwidth=1, ticks="")
    layout[ykey] = yax

    lx, ly = p["pos"]["legend"]
    layout[lg] = dict(x=px(lx - 41), y=py(ly), xanchor="left", yanchor="middle",
                      bgcolor="rgba(0,0,0,0)", borderwidth=0, itemwidth=30,
                      font=dict(family=BOLD, size=14, color="#222222"))

    pos = p["pos"]
    annotations += [
        dict(x=px(pos["count"][0]), y=py(pos["count"][1]), xref="paper", yref="paper",
             text=p["count"], showarrow=False, xanchor="left", yanchor="middle",
             font=dict(family=MONO, size=17, color="#333333")),
        dict(x=px(pos["noi"][0]), y=py(pos["noi"][1]), xref="paper", yref="paper",
             text="Number of Images", showarrow=False, xanchor="left", yanchor="middle",
             font=dict(family=MONO, size=17, color="#333333")),
        dict(x=px(pos["title"][0]), y=py(pos["title"][1]), xref="paper", yref="paper",
             text="<b>" + p["title"] + "</b>", showarrow=False, xanchor="left", yanchor="middle",
             font=dict(family=BOLD, size=14, color="#111111")),
        dict(x=px(pos["ytitle"][0]), y=py(pos["ytitle"][1]), xref="paper", yref="paper",
             text="<b>" + p["ytitle"] + "</b>", showarrow=False, textangle=-90,
             xanchor="center", yanchor="middle",
             font=dict(family=BOLD, size=14, color="#222222")),
        dict(x=px(pos["xtitle"][0]), y=py(pos["xtitle"][1]), xref="paper", yref="paper",
             text="<b>Year</b>", showarrow=False, xanchor="center", yanchor="middle",
             font=dict(family=BOLD, size=14, color="#222222")),
    ]
    for sy in p["s_years"]:
        annotations.append(dict(
            x=f"{sy}-09-01", y=0, xref=xa, yref=f"{ya} domain", text="S",
            showarrow=False, xanchor="center", yanchor="top", yshift=-2,
            font=TICK_FONT))

# highlighted (selected) bands
PINK = "rgba(235,100,100,0.19)"
shapes += [
    dict(type="rect", xref="x", yref="y", x0="2021-02-14", x1="2024-12-08", y0=8.7, y1=12.8,
         fillcolor=PINK, line=dict(width=0), layer="between"),
    dict(type="rect", xref="x", yref="y", x0="2023-07-31", x1="2024-12-08", y0=8.7, y1=12.8,
         fillcolor=PINK, line=dict(width=0), layer="between"),
    dict(type="rect", xref="x4", yref="y4", x0="2021-01-01", x1="2022-07-23", y0=-2.5, y1=5.0,
         fillcolor="rgba(235,100,100,0.17)", line=dict(width=0), layer="between"),
]

# light gray frame between the four chart panels
FRAME = "#e6e6e6"
shapes += [
    dict(type="line", xref="paper", yref="paper", x0=px(9), x1=1, y0=py(14), y1=py(14),
         line=dict(color=FRAME, width=3)),
    dict(type="line", xref="paper", yref="paper", x0=px(9.5), x1=px(9.5), y0=py(14), y1=0,
         line=dict(color=FRAME, width=3)),
    dict(type="line", xref="paper", yref="paper", x0=px(654), x1=px(654), y0=py(14), y1=0,
         line=dict(color=FRAME, width=5)),
    dict(type="line", xref="paper", yref="paper", x0=px(9), x1=1, y0=py(334), y1=py(334),
         line=dict(color=FRAME, width=6)),
]

fig.update_layout(
    width=FW, height=FH, margin=dict(l=0, r=0, t=0, b=0, autoexpand=False),
    paper_bgcolor="white", plot_bgcolor="white",
    annotations=annotations, shapes=shapes,
    font=dict(family=BOLD),
    **layout,
)

fig.write_html("out.html", config={"displayModeBar": False})
